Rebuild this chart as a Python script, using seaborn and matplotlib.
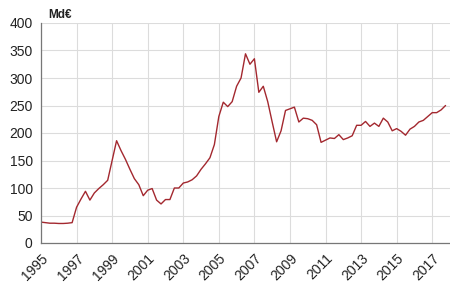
import numpy as np
import pandas as pd
import matplotlib
matplotlib.use("Agg")
import matplotlib.pyplot as plt
import seaborn as sns

years = list(range(1995, 2018))
quarters = [0.0, 0.25, 0.5, 0.75]
values = [
    38, 37, 36, 36,        # 1995
    35.5, 35.5, 36, 37,    # 1996
    65, 80, 94, 78,        # 1997
    91, 99, 106, 114,      # 1998
    150, 186, 168, 152,    # 1999
    134, 117, 106, 86,     # 2000
    96, 99, 78, 71,        # 2001
    79, 79, 100, 100,      # 2002
    109, 111, 115, 122,    # 2003
    134, 144, 155, 179,    # 2004
    230, 256, 248, 257,    # 2005
    285, 300, 344, 325,    # 2006
    335, 274, 285, 257,    # 2007
    220, 184, 204, 241,    # 2008
    244, 247, 220, 227,    # 2009
    226, 223, 215, 183,    # 2010
    187, 191, 190, 197,    # 2011
    188, 191, 195, 214,    # 2012
    214, 221, 212, 218,    # 2013
    212, 227, 220, 204,    # 2014
    208, 203, 196, 207,    # 2015
    212, 220, 223, 230,    # 2016
    237, 237, 242, 250,    # 2017
]
major_ticks = list(range(1995, 2018, 2))
minor_ticks = list(range(1995, 2019))
y_ticks = list(range(0, 401, 50))
unit_label = "Md€"

t = [y + q for y in years for q in quarters]
df = pd.DataFrame({"t": t, "v": values})

sns.set_style("white")
plt.rcParams["font.family"] = ["Liberation Sans", "DejaVu Sans"]

fig = plt.figure(figsize=(4.5, 2.91), dpi=100)
ax = fig.add_axes([41/450, 1-243/291, (450-41)/450, (243-23)/291])

sns.lineplot(data=df, x="t", y="v", ax=ax, color="#a3282f", linewidth=1.0)

ax.set_xlim(1995, 2018)
ax.set_ylim(0, 400)
ax.set_xticks(major_ticks)
ax.set_xticks(minor_ticks, minor=True)
ax.set_yticks(y_ticks)
ax.set_xticklabels([str(x) for x in major_ticks], rotation=45, ha="right",
                   rotation_mode="anchor", fontsize=10, color="#222222")
ax.set_yticklabels([str(v) for v in y_ticks], fontsize=10, color="#222222")
ax.set_xlabel("")
ax.set_ylabel("")

ax.grid(True, which="major", color="#dcdcdc", linewidth=0.8)
ax.set_axisbelow(True)
for s in ["top", "right"]:
    ax.spines[s].set_visible(False)
for s in ["left", "bottom"]:
    ax.spines[s].set_color("#777777")
    ax.spines[s].set_linewidth(0.9)
ax.tick_params(axis="both", which="both", direction="out", color="#777777",
               length=4, width=0.8, pad=2)
ax.tick_params(axis="x", which="minor", length=3)

fig.text(48/450, 1-15/291, unit_label, fontsize=8.5, fontweight="bold",
         color="#222222", va="center", ha="left")

fig.savefig("out.png", dpi=100, facecolor="white")
